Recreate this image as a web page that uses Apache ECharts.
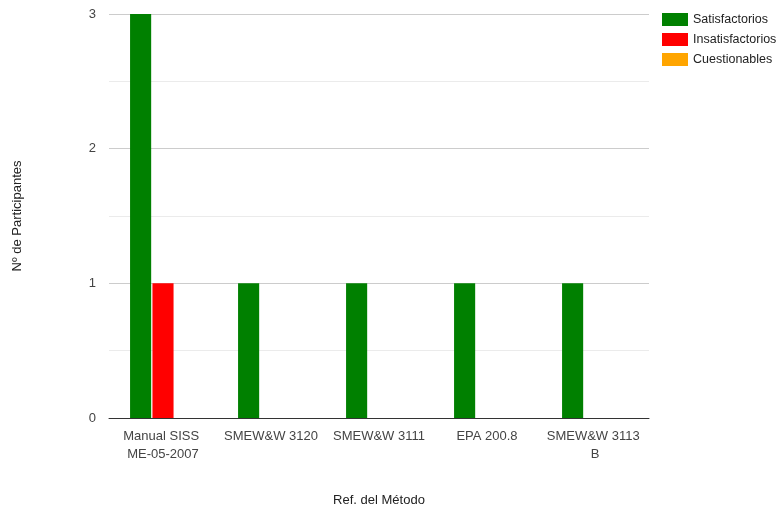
<!DOCTYPE html>
<html>
<head>
<meta charset="utf-8">
<script src="https://cdn.jsdelivr.net/npm/echarts@6/dist/echarts.min.js"></script>
<style>
  html, body { margin: 0; padding: 0; background: #fff; }
  #chart { width: 779px; height: 513px; }
</style>
</head>
<body>
<div id="chart"></div>
<script>
// Methods (categories) and participant counts per result class
const metodos = ['Manual SISS ME-05-2007', 'SMEW&W 3120', 'SMEW&W 3111', 'EPA 200.8', 'SMEW&W 3113 B'];
const satisfactorios = [3, 1, 1, 1, 1];
const insatisfactorios = [1, 0, 0, 0, 0];
const cuestionables = [0, 0, 0, 0, 0];

const seriesNames = ['Satisfactorios', 'Insatisfactorios', 'Cuestionables'];
const seriesColors = ['#008000', '#ff0000', '#ffa500'];
const seriesData = [satisfactorios, insatisfactorios, cuestionables];

const font = 'Arial, "Liberation Sans", sans-serif';

const chart = echarts.init(document.getElementById('chart'), null, { renderer: 'canvas' });

chart.setOption({
  animation: false,
  textStyle: { fontFamily: font },
  grid: { left: 109, right: 130, top: 14, bottom: 95, containLabel: false },
  legend: {
    orient: 'vertical',
    left: 662,
    top: 13,
    padding: 0,
    itemWidth: 26,
    itemHeight: 13,
    itemGap: 7,
    icon: 'rect',
    textStyle: { fontFamily: font, fontSize: 12.5, color: '#222' },
    data: seriesNames
  },
  xAxis: {
    type: 'category',
    data: metodos,
    name: 'Ref. del Método',
    nameLocation: 'middle',
    nameGap: 76,
    nameTextStyle: { fontFamily: font, fontSize: 13, color: '#222' },
    axisLine: { lineStyle: { color: '#333', width: 1 } },
    axisTick: { show: false },
    axisLabel: {
      fontFamily: font,
      fontSize: 13,
      color: '#444',
      margin: 9,
      lineHeight: 18,
      width: 100,
      overflow: 'break',
      interval: 0
    }
  },
  yAxis: {
    type: 'value',
    min: 0,
    max: 3,
    interval: 0.5,
    name: 'Nº de Participantes',
    nameLocation: 'middle',
    nameGap: 85,
    nameRotate: 90,
    nameTextStyle: { fontFamily: font, fontSize: 13, color: '#222' },
    axisLine: { show: false },
    axisTick: { show: false },
    axisLabel: {
      fontFamily: font,
      fontSize: 13,
      color: '#444',
      margin: 13,
      formatter: v => (Number.isInteger(v) ? String(v) : '')
    },
    splitLine: { lineStyle: { color: ['#cccccc', '#ebebeb'], width: 1 } }
  },
  series: seriesNames.map((name, i) => ({
    name: name,
    type: 'bar',
    data: seriesData[i],
    barGap: '6%',
    barCategoryGap: '39%',
    itemStyle: { color: seriesColors[i] }
  }))
});
</script>
</body>
</html>
